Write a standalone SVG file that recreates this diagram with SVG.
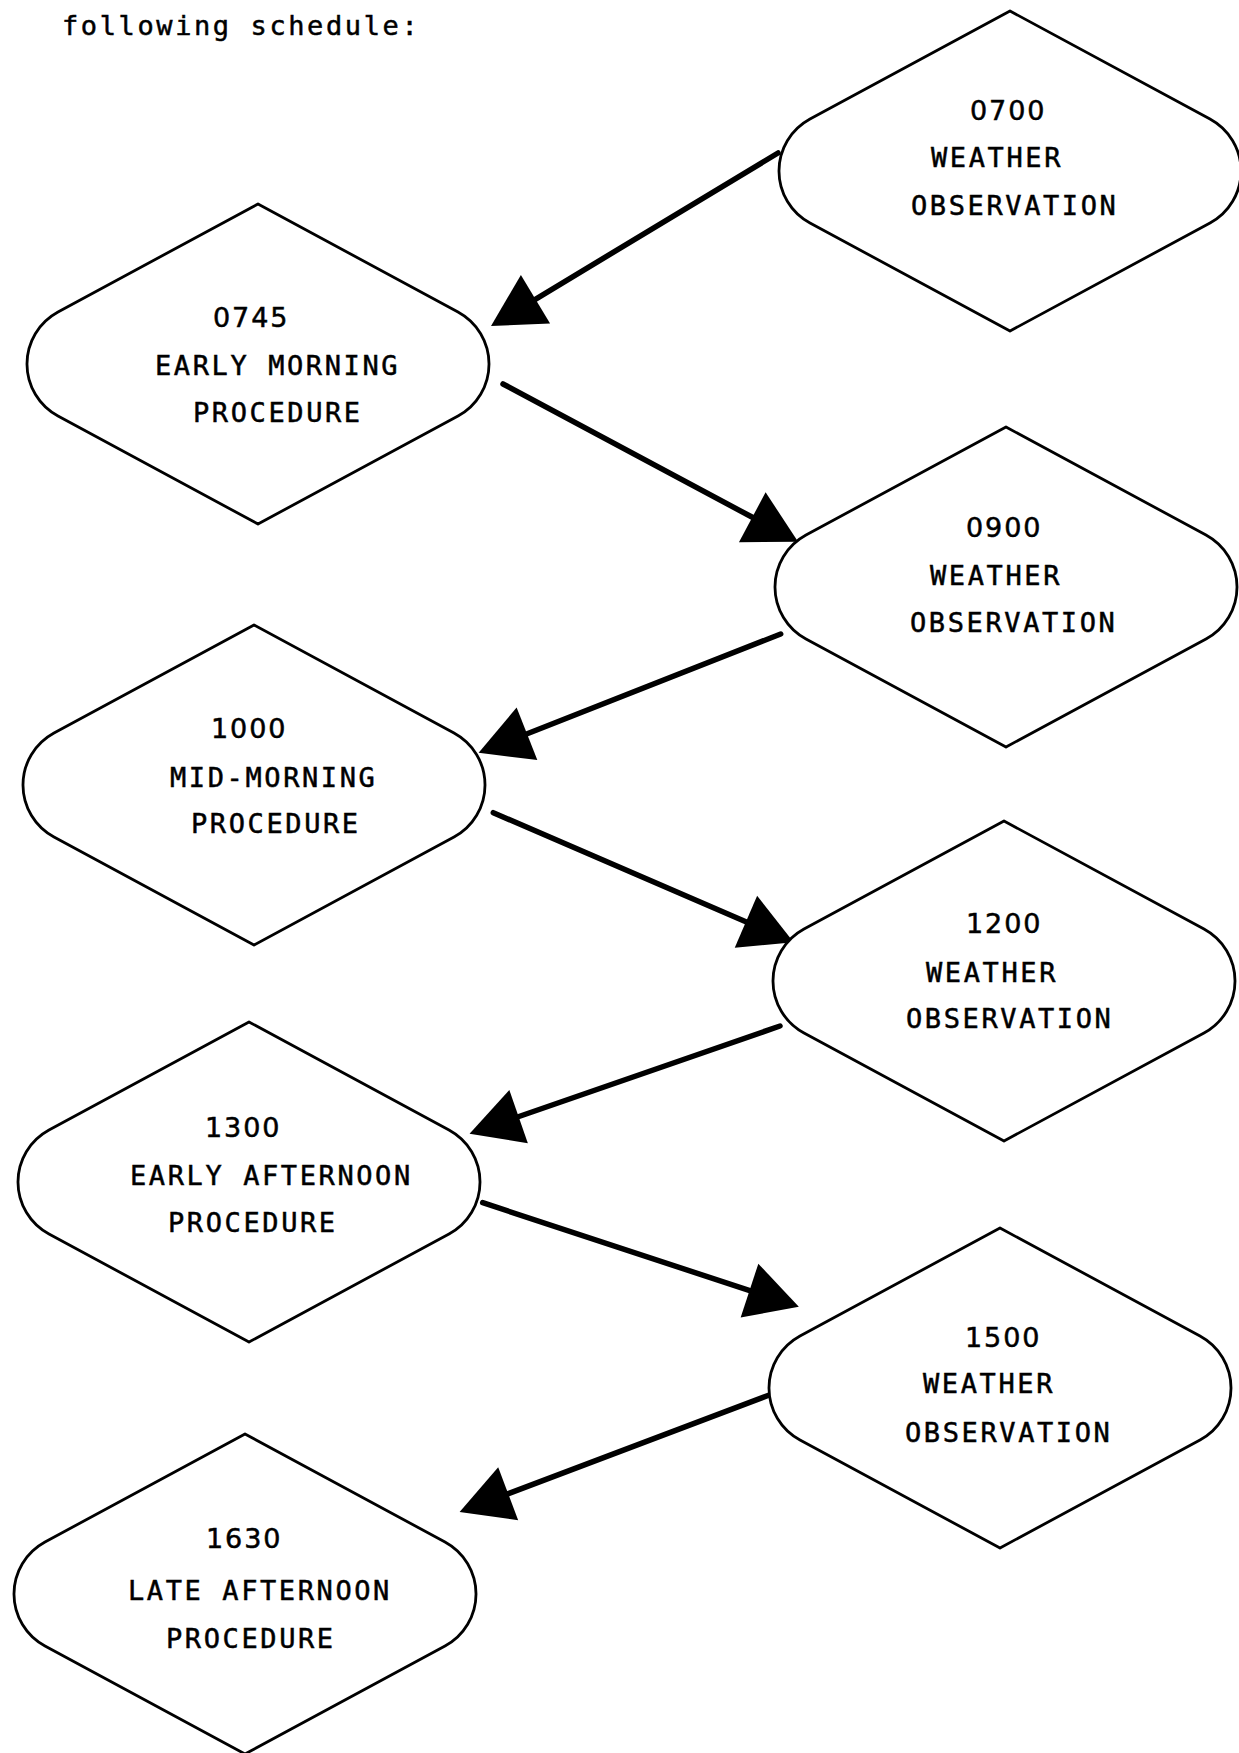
<svg xmlns="http://www.w3.org/2000/svg" xmlns:xlink="http://www.w3.org/1999/xlink" width="1239" height="1753" viewBox="0 0 1239 1753">
  <style>
    .shape { fill: #ffffff; stroke: #000000; stroke-width: 2.8; stroke-linejoin: round; }
    .lbl { font-family: "DejaVu Sans Mono", "Liberation Mono", monospace; font-size: 27px; letter-spacing: 2.6px; fill: #000000; stroke: #000000; stroke-width: 0.5; }
    .num { font-family: "DejaVu Sans", "Liberation Sans", sans-serif; font-size: 27px; letter-spacing: 1.9px; fill: #000000; stroke: #000000; stroke-width: 0.5; }
    .conn { stroke: #000000; stroke-width: 5.5; stroke-linecap: round; fill: none; marker-end: url(#head); }
  </style>
  <defs>
    <!-- lozenge: pointed top and bottom, circular arcs on the left and right ends -->
    <path id="lozenge" d="M0,-160 L-200,-52 A59.1,59.1 0 0 0 -200,52 L0,160 L200,52 A59.1,59.1 0 0 0 200,-52 Z"/>
    <marker id="head" markerUnits="userSpaceOnUse" markerWidth="60" markerHeight="60" viewBox="-2 -26 50 52" refX="1" refY="0" orient="auto">
      <path d="M0,-24.5 L45,0 L0,24.5 Z" fill="#000000"/>
    </marker>
  </defs>

  <rect x="0" y="0" width="1239" height="1753" fill="#ffffff"/>

  <text class="lbl" x="62" y="35">following schedule:</text>

  <g id="connectors">
    <line class="conn" x1="778" y1="153" x2="534.5" y2="299.8"/>
    <line class="conn" x1="503" y1="384" x2="753.3" y2="517.8"/>
    <line class="conn" x1="780.7" y1="634" x2="525.9" y2="734.2"/>
    <line class="conn" x1="493.3" y1="812.7" x2="747" y2="922.2"/>
    <line class="conn" x1="780" y1="1026" x2="517.5" y2="1117"/>
    <line class="conn" x1="482.7" y1="1202.7" x2="750.6" y2="1290.9"/>
    <line class="conn" x1="769.3" y1="1395" x2="507.1" y2="1494.1"/>
  </g>

  <g id="n0700">
    <use xlink:href="#lozenge" class="shape" transform="translate(1010,171)"/>
    <text class="num" x="970" y="120">0700</text>
    <text class="lbl" x="931" y="167">WEATHER</text>
    <text class="lbl" x="911" y="215">OBSERVATION</text>
  </g>

  <g id="n0745">
    <use xlink:href="#lozenge" class="shape" transform="translate(258,364)"/>
    <text class="num" x="213" y="327">0745</text>
    <text class="lbl" x="155" y="375">EARLY MORNING</text>
    <text class="lbl" x="193" y="422">PROCEDURE</text>
  </g>

  <g id="n0900">
    <use xlink:href="#lozenge" class="shape" transform="translate(1006,587)"/>
    <text class="num" x="966" y="537">0900</text>
    <text class="lbl" x="930" y="585">WEATHER</text>
    <text class="lbl" x="910" y="632">OBSERVATION</text>
  </g>

  <g id="n1000">
    <use xlink:href="#lozenge" class="shape" transform="translate(254,785)"/>
    <text class="num" x="211" y="738">1000</text>
    <text class="lbl" x="170" y="787">MID-MORNING</text>
    <text class="lbl" x="191" y="833">PROCEDURE</text>
  </g>

  <g id="n1200">
    <use xlink:href="#lozenge" class="shape" transform="translate(1004,981)"/>
    <text class="num" x="966" y="933">1200</text>
    <text class="lbl" x="926" y="982">WEATHER</text>
    <text class="lbl" x="906" y="1028">OBSERVATION</text>
  </g>

  <g id="n1300">
    <use xlink:href="#lozenge" class="shape" transform="translate(249,1182)"/>
    <text class="num" x="205" y="1137">1300</text>
    <text class="lbl" x="130" y="1185">EARLY AFTERNOON</text>
    <text class="lbl" x="168" y="1232">PROCEDURE</text>
  </g>

  <g id="n1500">
    <use xlink:href="#lozenge" class="shape" transform="translate(1000,1388)"/>
    <text class="num" x="965" y="1347">1500</text>
    <text class="lbl" x="923" y="1393">WEATHER</text>
    <text class="lbl" x="905" y="1442">OBSERVATION</text>
  </g>

  <g id="n1630">
    <use xlink:href="#lozenge" class="shape" transform="translate(245,1594)"/>
    <text class="num" x="206" y="1548">1630</text>
    <text class="lbl" x="128" y="1600">LATE AFTERNOON</text>
    <text class="lbl" x="166" y="1648">PROCEDURE</text>
  </g>
</svg>
